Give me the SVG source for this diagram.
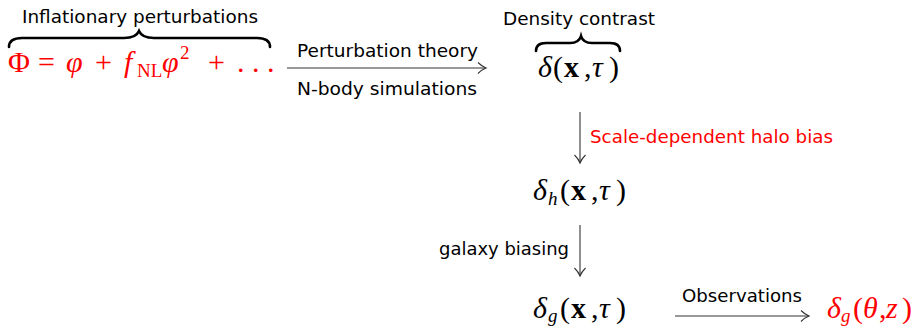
<svg xmlns="http://www.w3.org/2000/svg" width="917" height="326" viewBox="0 0 917 326">
<style>
.sans{font-family:"DejaVu Sans","Liberation Sans",sans-serif;font-size:18px;fill:#000}
.math{font-family:"Liberation Serif","DejaVu Serif",serif;font-size:30px;fill:#000}
.it{font-style:italic}
.bf{font-weight:bold}
.sub{font-size:19px}
text.red,tspan.red{fill:#ff0000}
.brace{fill:none;stroke:#000;stroke-width:2.6;stroke-linecap:round}
.conn{fill:none;stroke:#333;stroke-width:1.1}
</style>
<defs>
<marker id="ah" markerWidth="12" markerHeight="14" refX="10" refY="7" orient="auto" markerUnits="userSpaceOnUse">
<path d="M2,1.5 Q6,5.5 10,7 Q6,8.5 2,12.5" fill="none" stroke="#333" stroke-width="1.1"/>
</marker>
</defs>
<g id="connectors">
<line class="conn" x1="287" y1="68" x2="486" y2="68" marker-end="url(#ah)"/>
<line class="conn" x1="580" y1="112" x2="580" y2="163" marker-end="url(#ah)"/>
<line class="conn" x1="580" y1="225" x2="580" y2="276" marker-end="url(#ah)"/>
<line class="conn" x1="675" y1="316" x2="809" y2="316" marker-end="url(#ah)"/>
<text class="sans" x="297" y="57" textLength="181" lengthAdjust="spacingAndGlyphs">Perturbation theory</text>
<text class="sans" x="297" y="95" textLength="180" lengthAdjust="spacingAndGlyphs">N-body simulations</text>
<text class="sans red" x="590" y="143" textLength="243" lengthAdjust="spacingAndGlyphs">Scale-dependent halo bias</text>
<text class="sans" x="439" y="255" textLength="130" lengthAdjust="spacingAndGlyphs">galaxy biasing</text>
<text class="sans" x="682" y="302" textLength="120" lengthAdjust="spacingAndGlyphs">Observations</text>
</g>
<g id="phi">
<text class="sans" x="22" y="23" textLength="236" lengthAdjust="spacingAndGlyphs">Inflationary perturbations</text>
<path class="brace" d="M9,47 Q9,38 22,38 L124,38 Q136,38 139,31 Q142,38 154,38 L257,38 Q270,38 270,47"/>
<text class="math red" y="72"><tspan x="8">Φ</tspan><tspan x="38">=</tspan><tspan class="it" x="66">φ</tspan><tspan x="95">+</tspan><tspan class="it" x="124">f</tspan><tspan class="sub" x="137" y="77">NL</tspan><tspan class="it" x="162" y="72">φ</tspan><tspan class="sub" x="180" y="59">2</tspan><tspan x="208" y="72">+</tspan><tspan x="237">. . .</tspan></text>
</g>
<g id="delta">
<text class="sans" x="503" y="25" textLength="152" lengthAdjust="spacingAndGlyphs">Density contrast</text>
<path class="brace" d="M536,51 Q536,43 546,43 L570,43 Q579,43 581,36 Q583,43 592,43 L610,43 Q620,43 620,51"/>
<text class="math" y="77"><tspan class="it" x="538">δ</tspan><tspan x="553">(</tspan><tspan class="bf" x="564">x</tspan><tspan x="584">,</tspan><tspan class="it" x="592">τ</tspan><tspan x="609">)</tspan></text>
</g>
<g id="delta_h">
<text class="math" y="200"><tspan class="it" x="533">δ</tspan><tspan class="it sub" x="548" y="205">h</tspan><tspan x="560" y="200">(</tspan><tspan class="bf" x="571">x</tspan><tspan x="591">,</tspan><tspan class="it" x="599">τ</tspan><tspan x="616">)</tspan></text>
</g>
<g id="delta_g">
<text class="math" y="318"><tspan class="it" x="533">δ</tspan><tspan class="it sub" x="548" y="322">g</tspan><tspan x="560" y="318">(</tspan><tspan class="bf" x="571">x</tspan><tspan x="591">,</tspan><tspan class="it" x="599">τ</tspan><tspan x="616">)</tspan></text>
</g>
<g id="delta_obs">
<text class="math red" y="318"><tspan class="it" x="827">δ</tspan><tspan class="it sub" x="841" y="322">g</tspan><tspan x="853" y="318">(</tspan><tspan class="it" x="863">θ</tspan><tspan x="879">,</tspan><tspan class="it" x="886">z</tspan><tspan x="902">)</tspan></text>
</g>
</svg>
